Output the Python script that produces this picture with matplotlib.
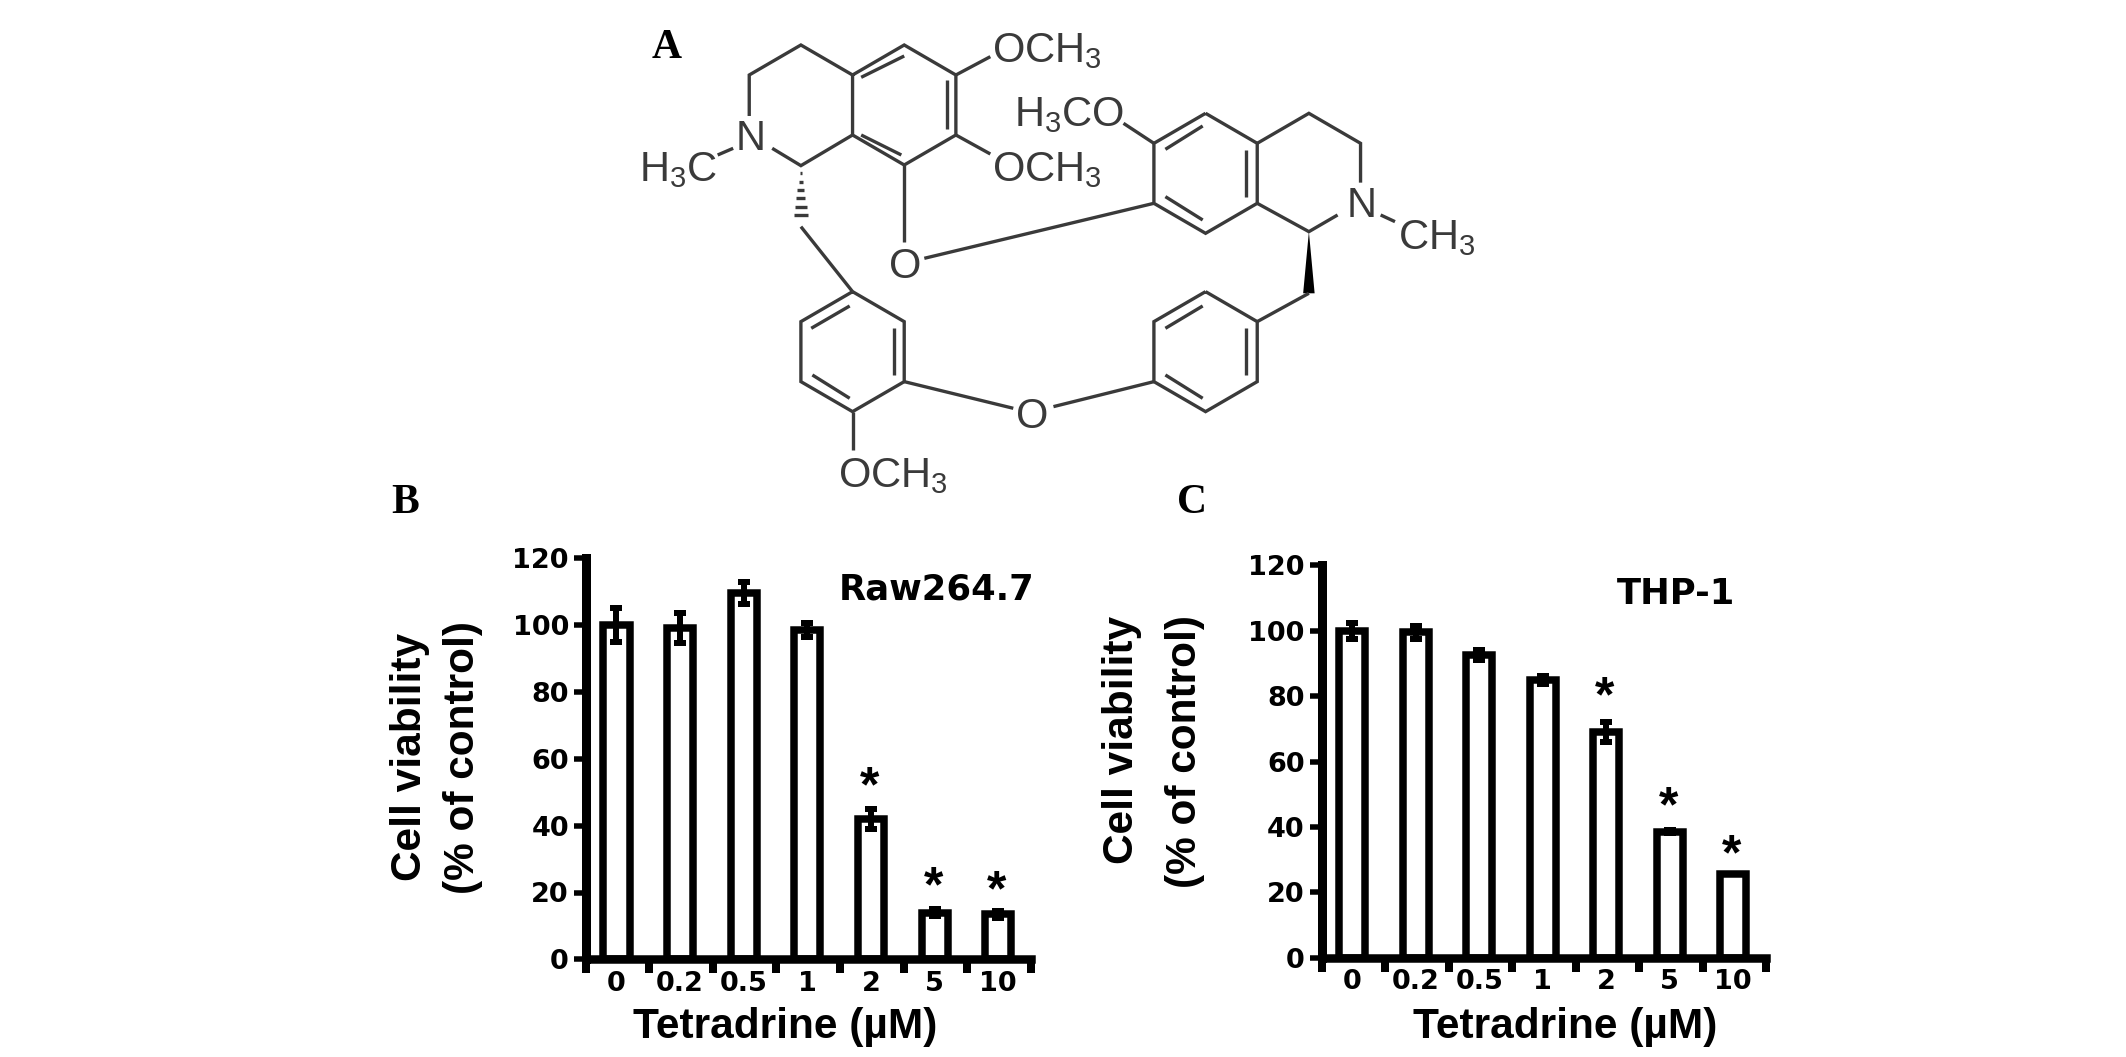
import matplotlib
matplotlib.use("Agg")
import matplotlib.pyplot as plt
from matplotlib.patches import Polygon

# ---------- data ----------
doses = ["0", "0.2", "0.5", "1", "2", "5", "10"]
y_ticks = [0, 20, 40, 60, 80, 100, 120]

raw_values = [100, 99, 109.5, 98.5, 42, 14, 13.5]
raw_errors = [5, 4.5, 3.3, 2, 3, 1, 1]
raw_star_doses = [4, 5, 6]
raw_star_y = [54, 24.3, 23]

thp_values = [100, 99.5, 92.5, 85, 69, 38.5, 25.5]
thp_errors = [2.5, 2, 1.5, 1.2, 3, 0.5, 0]
thp_star_doses = [4, 5, 6]
thp_star_y = [82.4, 48.5, 33.9]

W, H = 2126, 1057
plt.rcParams["mathtext.fontset"] = "custom"
plt.rcParams["mathtext.rm"] = "Liberation Sans"
plt.rcParams["mathtext.default"] = "rm"
fig = plt.figure(figsize=(W / 100, H / 100), dpi=100, facecolor="white")
PT = 0.72


def panel(left, right, bottom, top, values, errors, star_i, star_y, name, name_xy,
          yl1, yl2, xl):
    ax = fig.add_axes([left / W, 1 - bottom / H, (right - left) / W, (bottom - top) / H])
    ax.set_xlim(0, 7)
    ax.set_ylim(0, 120)
    xs = [i + 0.485 for i in range(7)]
    ax.bar(xs, values, width=0.41, facecolor="white", edgecolor="black",
           linewidth=7.5 * PT, zorder=2, clip_on=False)
    ax.errorbar(xs, values, yerr=errors, fmt="none", ecolor="black",
                elinewidth=6 * PT, capsize=4.5, capthick=6 * PT, zorder=3)
    for s in ("top", "right"):
        ax.spines[s].set_visible(False)
    ax.spines["left"].set_linewidth(9 * PT)
    ax.spines["bottom"].set_linewidth(8.5 * PT)
    ax.spines["bottom"].set_zorder(4)
    ax.spines["left"].set_zorder(4)
    ax.set_yticks(y_ticks)
    ax.set_yticklabels([str(v) for v in y_ticks], fontsize=19.5, family="DejaVu Sans",
                       fontweight="bold")
    ax.tick_params(axis="y", length=9, width=5.5 * PT, pad=3)
    ax.set_xticks(range(8))
    ax.set_xticklabels([""] * 8)
    ax.tick_params(axis="x", length=14 * PT, width=8 * PT)
    for x, d in zip(xs, doses):
        ax.annotate(d, (x, 0), xytext=(0, -8), textcoords="offset points", ha="center",
                    va="top", fontsize=19.5, family="DejaVu Sans", fontweight="bold")
    for i, y in zip(star_i, star_y):
        ax.annotate("*", (xs[i] - 0.02, y), xytext=(0, -7), textcoords="offset points",
                    ha="center", va="center", fontsize=36,
                    family="Liberation Sans", fontweight="bold", zorder=5)
    fig.text(name_xy[0] / W, 1 - name_xy[1] / H, name, ha="center", va="center", fontsize=25.5,
             family="DejaVu Sans", fontweight="bold")
    fig.text(yl1[0] / W, 1 - yl1[1] / H, "Cell viability", rotation=90, ha="center", va="center",
             fontsize=30.5, family="Liberation Sans", fontweight="bold")
    fig.text(yl2[0] / W, 1 - yl2[1] / H, "(% of control)", rotation=90, ha="center", va="center",
             fontsize=30.5, family="Liberation Sans", fontweight="bold")
    fig.text(xl[0] / W, 1 - xl[1] / H, "Tetradrine (\u00b5M)", ha="center", va="center",
             fontsize=30.5, family="Liberation Sans", fontweight="bold")


panel(585.6, 1031, 959.4, 558, raw_values, raw_errors, raw_star_doses, raw_star_y,
      "Raw264.7", (937, 589), (410, 757), (463, 757), (785, 1027))
panel(1321.5, 1766, 957.6, 565.4, thp_values, thp_errors, thp_star_doses, thp_star_y,
      "THP-1", (1676, 594), (1122, 740), (1185, 752), (1565, 1027))

# ---------- chemical structure (panel A), drawn in picture pixels ----------
sx = fig.add_axes([0, 0, 1, 1], zorder=-1)
sx.set_xlim(0, W)
sx.set_ylim(H, 0)
sx.axis("off")
SC = "#3a3a3a"


def P(zx, zy):
    return 600 + zx * 0.574, zy * 0.3333


chains = [
    [(260, 348), (260, 225), (350, 135), (440, 225)],
    [(300, 445), (350, 497), (440, 405)],
    [(440, 225), (530, 135), (620, 225), (620, 405), (530, 495), (440, 405), (440, 225)],
    [(455, 232), (530, 168)], [(605, 240), (605, 388)], [(455, 405), (525, 465)],
    [(620, 225), (680, 170)], [(620, 405), (680, 462)],
    [(530, 495), (530, 725)], [(565, 775), (965, 610)], [(205, 465), (232, 445)],
    [(350, 680), (440, 875)],
    [(440, 875), (530, 965), (530, 1145), (440, 1235), (350, 1145), (350, 965), (440, 875)],
    [(368, 985), (435, 918)], [(512, 985), (512, 1125)], [(370, 1125), (435, 1195)],
    [(440, 1235), (440, 1350)], [(530, 1145), (720, 1225)], [(790, 1220), (965, 1145)],
    [(1055, 875), (1145, 965), (1145, 1145), (1055, 1235), (965, 1145), (965, 965), (1055, 875)],
    [(985, 985), (1050, 918)], [(1125, 985), (1125, 1125)], [(985, 1125), (1050, 1195)],
    [(1145, 965), (1235, 880)],
    [(1055, 340), (1145, 430), (1145, 610), (1055, 700), (965, 610), (965, 430), (1055, 340)],
    [(985, 448), (1050, 378)], [(1125, 450), (1125, 590)], [(985, 590), (1050, 660)],
    [(965, 430), (912, 370)],
    [(1145, 430), (1235, 340), (1325, 430), (1325, 548)],
    [(1285, 645), (1235, 695), (1145, 610)], [(1360, 645), (1385, 665)],
]
for ch in chains:
    pts = [P(*p) for p in ch]
    sx.plot([p[0] for p in pts], [p[1] for p in pts], color=SC, lw=2.4, solid_joinstyle="miter",
            solid_capstyle="butt")
for zy, half in [(520, 2), (545, 4), (570, 6), (595, 8), (620, 10), (645, 12)]:
    a, b = P(350 - half, zy), P(350 + half, zy)
    sx.plot([a[0], b[0]], [a[1], b[1]], color=SC, lw=2.4, solid_capstyle="butt")
sx.add_patch(Polygon([P(1235, 695), P(1225, 880), P(1245, 880)], closed=True, fc="black", ec="none"))

labels = [
    (683, 187, r"OCH$_3$"), (683, 543, r"OCH$_3$"), (722, 378, r"H$_3$CO"),
    (68, 543, r"H$_3$C"), (236, 450, "N"), (1390, 748, r"CH$_3$"), (1300, 650, "N"),
    (503, 835, "O"), (725, 1283, "O"), (415, 1462, r"OCH$_3$"),
]
for zx, zy, s in labels:
    x, y = P(zx, zy)
    sx.text(x, y, s, ha="left", va="baseline", fontsize=30, color=SC, family="Liberation Sans")

for s, xy in [("A", (667, 48)), ("B", (405, 503)), ("C", (1192, 503))]:
    sx.text(xy[0], xy[1], s, ha="center", va="center", fontsize=30, color="black",
            family="Liberation Serif", fontweight="bold")

fig.savefig("out.png", dpi=100, facecolor="white")
